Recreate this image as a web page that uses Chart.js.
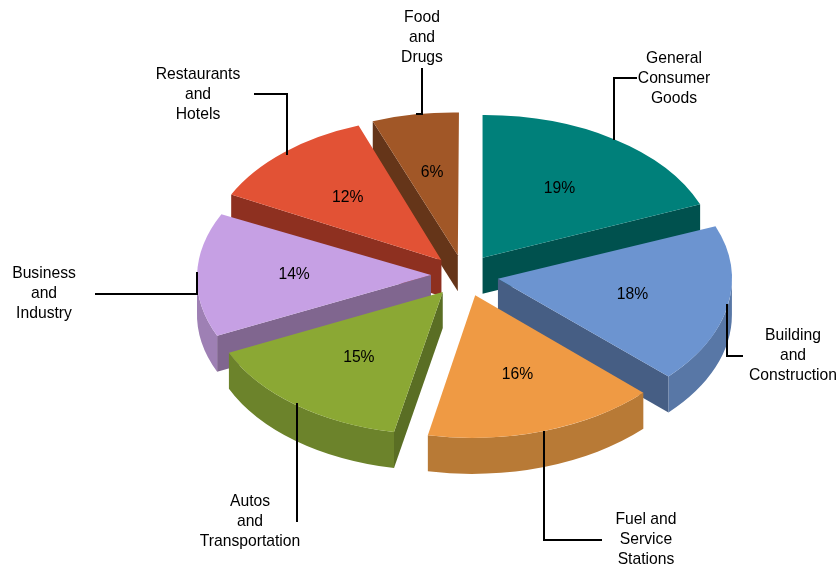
<!DOCTYPE html>
<html>
<head>
<meta charset="utf-8">
<style>
  html, body { margin: 0; padding: 0; background: #fff; }
  #wrap { width: 837px; height: 566px; }
</style>
<script src="https://cdn.jsdelivr.net/npm/chart.js@4"></script>
</head>
<body>
<div id="wrap"><canvas id="pie" width="837" height="566"></canvas></div>
<script>
const categories = [
  ["General", "Consumer", "Goods"],
  ["Building", "and", "Construction"],
  ["Fuel and", "Service", "Stations"],
  ["Autos", "and", "Transportation"],
  ["Business", "and", "Industry"],
  ["Restaurants", "and", "Hotels"],
  ["Food", "and", "Drugs"]
];
const shares = [19, 18, 16, 15, 14, 12, 6];

const topColors = ["#00807a", "#6c94d0", "#ef9a44", "#8ba834", "#c6a0e4", "#e25235", "#a15727"];
const faceColors = ["#00514e", "#465e84", "#8f6030", "#5a6e24", "#80668f", "#8e3020", "#653519"];
const rimColors = ["#00605c", "#5877a6", "#b87a36", "#6c832b", "#9e80b4", "#a83d28", "#7a4220"];

// label centres and leader lines, one per category
const labelX = [674, 793, 646, 250, 44, 198, 422];
const labelY = [59, 336, 520, 502, 274, 75, 18];
const leaders = [
  [[637, 78], [614, 78], [614, 140]],
  [[743, 356], [727, 356], [727, 304]],
  [[602, 540], [544, 540], [544, 431]],
  [[297, 522], [297, 403]],
  [[95, 294], [197, 294], [197, 272]],
  [[254, 94], [287, 94], [287, 155]],
  [[422, 68], [422, 114], [416, 114]]
];

const squash = 0.61;
const depth = 36;
const explode = 33;
const sliceRadius = 234;
const labelFont = '15.7px "Liberation Sans", Arial, sans-serif';

// the original has a little perspective, faked per slice with a shear and a shift
const shearX = [0, 0, -0.025, -0.035, -0.035, -0.025, -0.008];
const shearY = [-0.005, 0, 0, 0, 0, 0.024, 0.015];
const nudgeX = [0, 1.5, 1, -1, 0, 0, 0];
const nudgeY = [-1.5, -1, 0, 0, -1, -1, -1];

function sliceGeometry(arc, i) {
  const p = arc.getProps(["x", "y", "startAngle", "endAngle", "outerRadius"], true);
  const mid = (p.startAngle + p.endAngle) / 2;
  return {
    i: i,
    arc: arc,
    x: p.x,
    y: p.y,
    mid: mid,
    start: p.startAngle,
    end: p.endAngle,
    r: p.outerRadius,
    cx: p.x + Math.cos(mid) * explode,
    cy: p.y + Math.sin(mid) * explode * squash
  };
}

// after this the slice's tip is the origin
function placeSlice(ctx, s) {
  ctx.translate(s.cx + nudgeX[s.i], s.cy + nudgeY[s.i]);
  ctx.transform(1, shearY[s.i], shearX[s.i], 1, 0, 0);
}

function drawFace(ctx, s, a, color) {
  const qx = Math.cos(a) * s.r;
  const qy = Math.sin(a) * s.r * squash;
  // walls stay vertical on screen, so undo the shear over the depth
  const back = -shearX[s.i] * depth;
  ctx.fillStyle = color;
  ctx.beginPath();
  ctx.moveTo(0, 0);
  ctx.lineTo(qx, qy);
  ctx.lineTo(qx + back, qy + depth);
  ctx.lineTo(back, depth);
  ctx.closePath();
  ctx.fill();
}

function drawRim(ctx, s, color) {
  // only the part of the rim on the near side shows
  const from = Math.max(s.start, 0);
  const to = Math.min(s.end, Math.PI);
  if (to <= from) return;
  const back = -shearX[s.i] * depth;
  ctx.fillStyle = color;
  ctx.beginPath();
  ctx.ellipse(0, 0, s.r, s.r * squash, 0, from, to);
  ctx.ellipse(back, depth, s.r, s.r * squash, 0, to, from, true);
  ctx.closePath();
  ctx.fill();
}

const tiltPlugin = {
  id: "tilt",
  // the arcs are drawn here so each one can be moved out and flattened
  beforeDatasetDraw(chart) {
    const ctx = chart.ctx;
    const slices = chart.getDatasetMeta(0).data.map(sliceGeometry);
    // back slices first
    slices.sort((a, b) => a.cy - b.cy);
    slices.forEach(s => {
      ctx.save();
      placeSlice(ctx, s);
      if (Math.cos(s.start) < -0.001) drawFace(ctx, s, s.start, faceColors[s.i]);
      if (Math.cos(s.end) > 0.001) drawFace(ctx, s, s.end, faceColors[s.i]);
      drawRim(ctx, s, rimColors[s.i]);
      ctx.restore();
    });
    slices.forEach(s => {
      ctx.save();
      placeSlice(ctx, s);
      ctx.scale(1, squash);
      ctx.translate(-s.x, -s.y);
      s.arc.draw(ctx);
      ctx.restore();
    });
    return false;
  },
  afterDatasetsDraw(chart) {
    const ctx = chart.ctx;
    ctx.fillStyle = "#000";
    ctx.font = labelFont;
    ctx.textAlign = "center";
    ctx.textBaseline = "middle";
    chart.getDatasetMeta(0).data.map(sliceGeometry).forEach(s => {
      const lx = Math.cos(s.mid) * s.r * 0.585;
      const ly = Math.sin(s.mid) * s.r * squash * 0.585;
      const x = s.cx + nudgeX[s.i] + lx;
      const y = s.cy + nudgeY[s.i] + ly + shearY[s.i] * lx;
      ctx.fillText(shares[s.i] + "%", x, y);
    });

    ctx.strokeStyle = "#000";
    ctx.lineWidth = 2;
    leaders.forEach(pts => {
      ctx.beginPath();
      pts.forEach((pt, j) => j ? ctx.lineTo(pt[0], pt[1]) : ctx.moveTo(pt[0], pt[1]));
      ctx.stroke();
    });

    categories.forEach((lines, i) => {
      lines.forEach((line, j) => ctx.fillText(line, labelX[i], labelY[i] + j * 20));
    });
  }
};

new Chart(document.getElementById("pie"), {
  type: "pie",
  data: {
    labels: categories.map(c => c.join(" ")),
    datasets: [{
      data: shares,
      backgroundColor: topColors,
      borderWidth: 0
    }]
  },
  options: {
    responsive: false,
    animation: false,
    events: [],
    radius: sliceRadius,
    layout: { padding: { left: 91, top: 0, right: 0, bottom: 14 } },
    plugins: { legend: { display: false }, tooltip: { enabled: false } }
  },
  plugins: [tiltPlugin]
});
</script>
</body>
</html>
